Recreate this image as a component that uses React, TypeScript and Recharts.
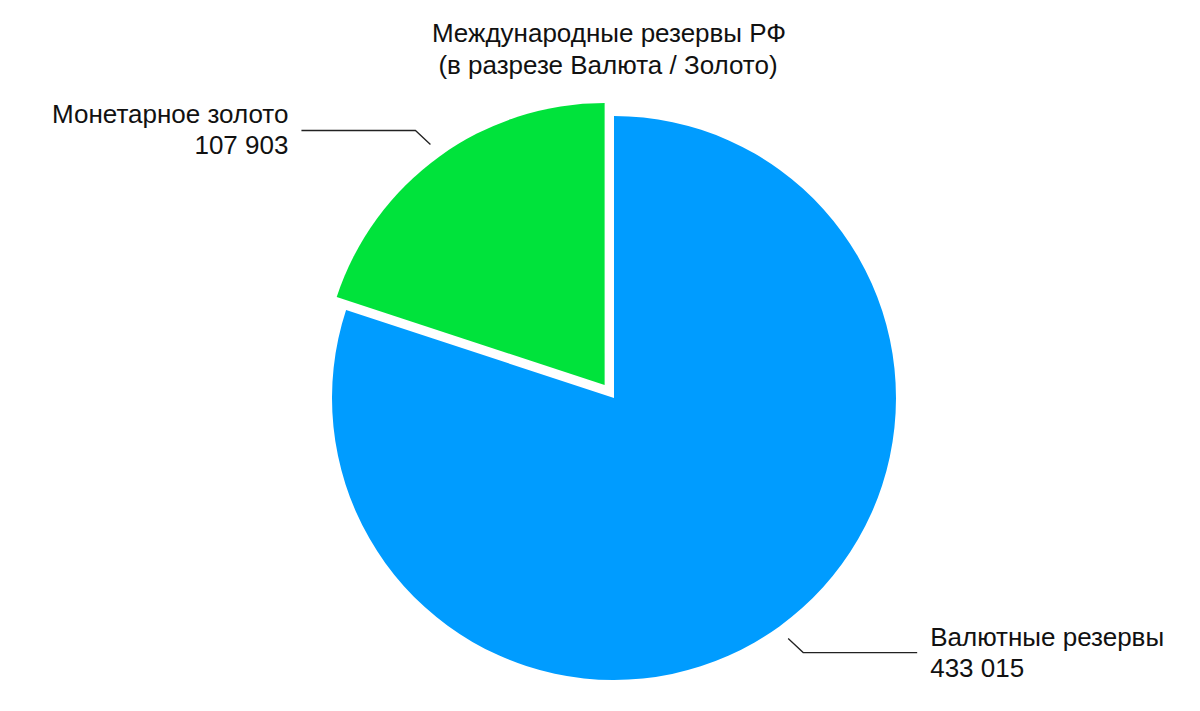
import { PieChart, Pie, Cell } from 'recharts'

const categories = ['Валютные резервы', 'Монетарное золото']
const values = [433015, 107903]
const colors = ['#009CFF', '#00E33B']
const titleLines = ['Международные резервы РФ', '(в разрезе Валюта / Золото)']

const data = categories.map((name, i) => ({ name, value: values[i] }))

const RAD = Math.PI / 180
const FONT = '"Liberation Sans", Arial, Helvetica, sans-serif'
// chart margin is 5px, so centre is given relative to it
const CX = 609
const CY = 393
const R = 282
const EXPLODE = 16

const total = values.reduce((a, b) => a + b, 0)
// green slice mid angle (start at top, going clockwise)
const greenMid = 90 + ((values[1] / total) * 360) / 2
const offX = Math.cos(greenMid * RAD) * EXPLODE
const offY = -Math.sin(greenMid * RAD) * EXPLODE

const fmt = (v: number) => {
  const s = String(v)
  return s.replace(/\B(?=(\d{3})+(?!\d))/g, ' ')
}

const makeLabel = (onlyIndex: number) => (props: any) => {
  const { cx, cy, midAngle, outerRadius, index, name, value } = props
  if (index !== onlyIndex) return null
  const cos = Math.cos(-midAngle * RAD)
  const sin = Math.sin(-midAngle * RAD)
  const x0 = cx + (outerRadius + 15) * cos
  const y0 = cy + (outerRadius + 15) * sin
  const dir = cos >= 0 ? 1 : -1
  const vdir = sin >= 0 ? 1 : -1
  const x1 = x0 + dir * 15
  const y1 = y0 + vdir * 14
  const x2 = x1 + dir * 114
  const tx = x2 + dir * 13
  return (
    <g>
      <polyline
        points={`${x0},${y0} ${x1},${y1} ${x2},${y1}`}
        fill="none"
        stroke="#222"
        strokeWidth={1.3}
      />
      <text
        x={tx}
        y={y1 - 7}
        textAnchor={dir > 0 ? 'start' : 'end'}
        fontFamily={FONT}
        fontSize={26}
        fill="#111"
      >
        <tspan x={tx} y={y1 - 7}>{name}</tspan>
        <tspan x={tx} y={y1 + 24}>{fmt(value)}</tspan>
      </text>
    </g>
  )
}

export default function App() {
  return (
    <div style={{ position: 'absolute', left: 0, top: 0, width: 1200, height: 711, background: '#fff' }}>
      <PieChart width={1200} height={711}>
        <text x={609} y={42} textAnchor="middle" fontFamily={FONT} fontSize={26} fill="#111">
          {titleLines[0]}
        </text>
        <text x={608} y={74} textAnchor="middle" fontFamily={FONT} fontSize={26} fill="#111">
          {titleLines[1]}
        </text>
        <Pie
          data={data}
          dataKey="value"
          nameKey="name"
          cx={CX}
          cy={CY}
          outerRadius={R}
          startAngle={90}
          endAngle={-270}
          stroke="none"
          labelLine={false}
          label={makeLabel(0)}
          isAnimationActive={false}
        >
          {data.map((d, i) => (
            <Cell key={d.name} fill={i === 0 ? colors[0] : 'transparent'} />
          ))}
        </Pie>
        <Pie
          data={data}
          dataKey="value"
          nameKey="name"
          cx={CX + offX}
          cy={CY + offY}
          outerRadius={R}
          startAngle={90}
          endAngle={-270}
          stroke="none"
          labelLine={false}
          label={makeLabel(1)}
          isAnimationActive={false}
        >
          {data.map((d, i) => (
            <Cell key={d.name} fill={i === 1 ? colors[1] : 'transparent'} />
          ))}
        </Pie>
      </PieChart>
    </div>
  )
}
